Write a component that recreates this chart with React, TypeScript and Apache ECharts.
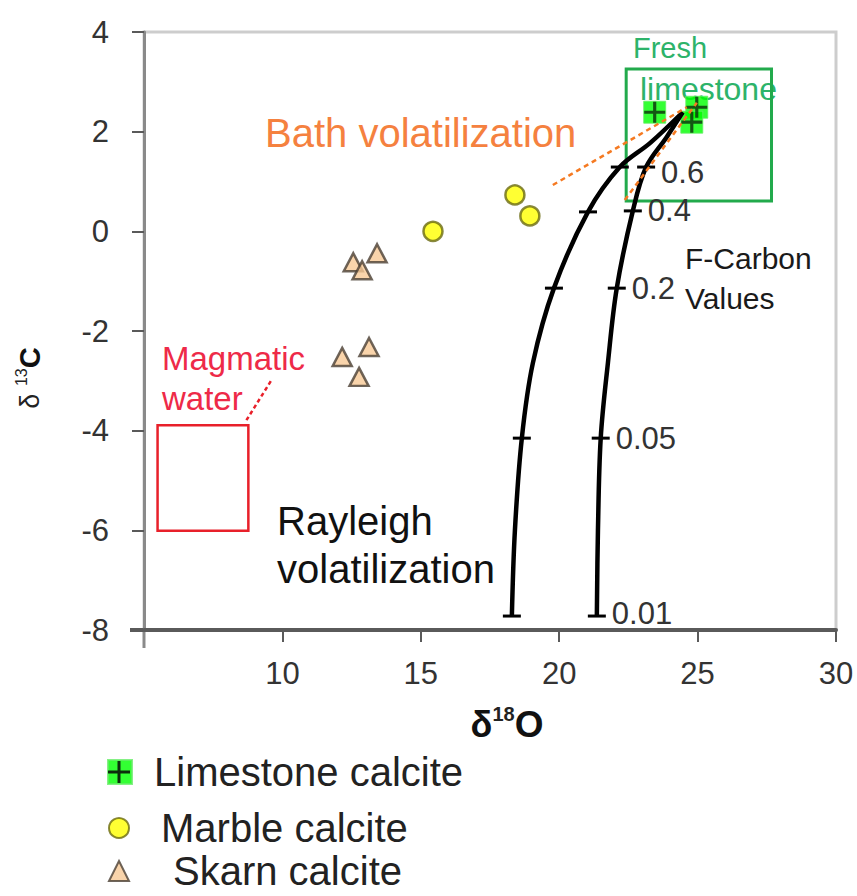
import React, { useEffect, useRef } from 'react';
import * as echarts from 'echarts';

// ---- Data ----
const limestoneX = [23.45, 24.97, 24.79];
const limestoneY = [2.39, 2.49, 2.19];

const marbleX = [18.4, 18.94, 15.44];
const marbleY = [0.73, 0.31, 0.0];

const skarnX = [13.42, 12.56, 12.88, 13.13, 12.16, 12.77];
const skarnY = [-0.44, -0.62, -0.78, -2.32, -2.52, -2.92];

// Rayleigh volatilization curves (tick indices mark F-carbon values)
const leftCurveX = [24.46, 23.3, 22.19, 21.04, 19.81, 19.05, 18.65, 18.4, 18.29];
const leftCurveY = [2.39, 1.78, 1.29, 0.39, -1.14, -2.64, -4.15, -6.0, -7.72];
const rightCurveX = [24.46, 23.88, 23.14, 22.66, 22.08, 21.76, 21.5, 21.4, 21.36];
const rightCurveY = [2.39, 1.89, 1.29, 0.41, -1.14, -2.64, -4.15, -6.0, -7.72];
const curveTickIndex = [2, 3, 4, 6, 8];
const fCarbonLabels = ['0.6', '0.4', '0.2', '0.05', '0.01'];

// Bath volatilization guide lines
const bathLine1X = [19.77, 24.61];
const bathLine1Y = [0.93, 2.49];
const bathLine2X = [22.37, 24.97];
const bathLine2Y = [0.63, 2.58];

// Magmatic water box and leader
const magmaticBoxX = [5.49, 8.77];
const magmaticBoxY = [-6.01, -3.89];
const magmaticLeaderX = [8.7, 9.6];
const magmaticLeaderY = [-3.79, -2.99];

// Fresh limestone box
const freshBoxX = [22.42, 27.67];
const freshBoxY = [0.61, 3.26];

const xTicks = { min: 5, max: 30, interval: 5 };
const yTicks = { min: -8, max: 4, interval: 2 };

const FONT = 'Liberation Sans, Arial, sans-serif';
const zip = (xs: number[], ys: number[]) => xs.map((x, i) => [x, ys[i]]);

const crossPath = 'path://M8.5,0H11.5V8.5H20V11.5H11.5V20H8.5V11.5H0V8.5H8.5Z';

function curveData(xs: number[], ys: number[], withLabels: boolean) {
  return xs.map((x, i) => {
    const k = curveTickIndex.indexOf(i);
    if (k < 0) return { value: [x, ys[i]], symbol: 'none' };
    const item: any = { value: [x, ys[i]], symbol: 'rect', symbolSize: [18, 3] };
    if (withLabels) {
      item.label = {
        show: true,
        position: 'right',
        distance: 6,
        formatter: fCarbonLabels[k],
        fontSize: 31,
        fontFamily: FONT,
        color: '#333',
        offset: k === 0 ? [0, 5] : k === 4 ? [0, -3] : [0, 0],
      };
    }
    return item;
  });
}

export default function App() {
  const ref = useRef<HTMLDivElement>(null);
  useEffect(() => {
    document.body.style.margin = '0';
    const chart = echarts.init(ref.current!, null, { renderer: 'svg' });
    const legendText = { fontSize: 40, fontFamily: FONT, color: '#222', lineHeight: 40 };
    const option: any = {
      animation: false,
      backgroundColor: '#ffffff',
      textStyle: { fontFamily: FONT },
      grid: {
        left: 144,
        right: 21,
        top: 32,
        bottom: 266,
        show: true,
        borderColor: '#cdcdcd',
        borderWidth: 3,
      },
      xAxis: {
        type: 'value',
        min: xTicks.min,
        max: xTicks.max,
        interval: xTicks.interval,
        axisLine: { onZero: false, lineStyle: { color: '#5a5a5a', width: 4 } },
        axisTick: { show: true, length: 12, lineStyle: { color: '#5a5a5a', width: 2 } },
        axisLabel: {
          showMinLabel: false,
          margin: 28,
          fontSize: 31,
          fontFamily: FONT,
          color: '#333',
        },
        splitLine: { show: false },
      },
      yAxis: {
        type: 'value',
        min: yTicks.min,
        max: yTicks.max,
        interval: yTicks.interval,
        axisLine: { onZero: false, lineStyle: { color: '#8a8a8a', width: 3 } },
        axisTick: { show: true, length: 12, lineStyle: { color: '#5a5a5a', width: 2 } },
        axisLabel: { margin: 35, fontSize: 31, fontFamily: FONT, color: '#333' },
        splitLine: { show: false },
      },
      legend: [
        {
          data: [{ name: 'Limestone calcite', icon: 'rect' }],
          left: 107,
          top: 752,
          padding: 0,
          itemWidth: 24,
          itemHeight: 24,
          textStyle: { ...legendText, padding: [0, 0, 0, 17] },
        },
        {
          data: [{ name: 'Marble calcite', icon: 'circle' }],
          left: 108,
          top: 808,
          padding: 0,
          itemWidth: 20,
          itemHeight: 20,
          textStyle: { ...legendText, padding: [0, 0, 0, 27] },
        },
        {
          data: [{ name: 'Skarn calcite', icon: 'triangle' }],
          left: 108,
          top: 851,
          padding: 0,
          itemWidth: 20,
          itemHeight: 20,
          textStyle: { ...legendText, padding: [0, 0, 0, 39] },
        },
      ],
      series: [
        {
          name: 'Limestone calcite',
          type: 'scatter',
          z: 2,
          symbol: 'rect',
          symbolSize: 22,
          itemStyle: { color: '#00ff00', borderColor: '#66ee66', borderWidth: 1 },
          data: zip(limestoneX, limestoneY),
        },
        {
          name: 'limestone-cross',
          type: 'scatter',
          z: 2,
          symbol: crossPath,
          symbolSize: 21,
          itemStyle: { color: '#0d2d0d' },
          data: zip(limestoneX, limestoneY),
        },
        {
          name: 'Marble calcite',
          type: 'scatter',
          z: 2,
          symbol: 'circle',
          symbolSize: 19,
          itemStyle: { color: '#ffff00', borderColor: '#6a6a10', borderWidth: 2.5 },
          data: zip(marbleX, marbleY),
        },
        {
          name: 'Skarn calcite',
          type: 'scatter',
          z: 2,
          symbol: 'triangle',
          symbolSize: [19, 18],
          itemStyle: { color: '#f8c996', borderColor: '#4a3e33', borderWidth: 2.5 },
          data: zip(skarnX, skarnY),
        },
        {
          name: 'Rayleigh left',
          type: 'line',
          z: 4,
          smooth: 0.35,
          lineStyle: { color: '#000', width: 4.5 },
          itemStyle: { color: '#000' },
          data: curveData(leftCurveX, leftCurveY, false),
        },
        {
          name: 'Rayleigh right',
          type: 'line',
          z: 4,
          smooth: 0.35,
          lineStyle: { color: '#000', width: 4.5 },
          itemStyle: { color: '#000' },
          data: curveData(rightCurveX, rightCurveY, true),
        },
        {
          name: 'Bath 1',
          type: 'line',
          z: 5,
          symbol: 'none',
          lineStyle: { color: '#f57a22', width: 2.5, type: [5, 4] },
          data: zip(bathLine1X, bathLine1Y),
        },
        {
          name: 'Bath 2',
          type: 'line',
          z: 5,
          symbol: 'none',
          lineStyle: { color: '#f57a22', width: 2.5, type: [5, 4] },
          data: zip(bathLine2X, bathLine2Y),
        },
        {
          name: 'Magmatic leader',
          type: 'line',
          z: 5,
          symbol: 'none',
          lineStyle: { color: '#e8202a', width: 2.5, type: [4, 3] },
          data: zip(magmaticLeaderX, magmaticLeaderY),
          markArea: {
            silent: true,
            itemStyle: { color: 'rgba(0,0,0,0)', borderColor: '#e8202a', borderWidth: 2.5 },
            data: [
              [
                { coord: [magmaticBoxX[0], magmaticBoxY[1]] },
                { coord: [magmaticBoxX[1], magmaticBoxY[0]] },
              ],
              [
                {
                  coord: [freshBoxX[0], freshBoxY[1]],
                  itemStyle: { color: 'rgba(0,0,0,0)', borderColor: '#22aa4c', borderWidth: 3 },
                },
                { coord: [freshBoxX[1], freshBoxY[0]] },
              ],
            ],
          },
        },
      ],
      graphic: [
        // cross on legend icon
        {
          type: 'rect',
          shape: { x: 108, y: 770.5, width: 22, height: 3 },
          style: { fill: '#0d2d0d' },
          z: 100,
        },
        {
          type: 'rect',
          shape: { x: 117.5, y: 761, width: 3, height: 22 },
          style: { fill: '#0d2d0d' },
          z: 100,
        },
        // axis line overhangs
        {
          type: 'line',
          shape: { x1: 144, y1: 630, x2: 144, y2: 648 },
          style: { stroke: '#8a8a8a', lineWidth: 3 },
        },
        {
          type: 'line',
          shape: { x1: 130, y1: 630, x2: 144, y2: 630 },
          style: { stroke: '#5a5a5a', lineWidth: 4 },
        },
        // axis titles
        {
          type: 'text',
          x: 30,
          y: 378,
          rotation: Math.PI / 2,
          style: {
            text: '{d|δ }{s|13}{c|C}',
            align: 'center',
            verticalAlign: 'middle',
            rich: {
              d: { fontSize: 27, fontFamily: FONT, fill: '#222', lineHeight: 34 },
              s: { fontSize: 16, fontFamily: FONT, fill: '#222', verticalAlign: 'top', lineHeight: 34 },
              c: { fontSize: 29, fontFamily: FONT, fontWeight: 'bold', fill: '#111', lineHeight: 34 },
            },
          },
        },
        {
          type: 'text',
          x: 507,
          y: 724,
          style: {
            text: '{d|δ}{s|18}{c|O}',
            align: 'center',
            verticalAlign: 'middle',
            rich: {
              d: { fontSize: 36, fontFamily: FONT, fontWeight: 'bold', fill: '#111', lineHeight: 40 },
              s: { fontSize: 20, fontFamily: FONT, fontWeight: 'bold', fill: '#222', verticalAlign: 'top', lineHeight: 40 },
              c: { fontSize: 37, fontFamily: FONT, fontWeight: 'bold', fill: '#111', lineHeight: 40 },
            },
          },
        },
        // annotations
        {
          type: 'text',
          x: 633,
          y: 48,
          style: { text: 'Fresh', fontSize: 29, fontFamily: FONT, fill: '#2db36a', verticalAlign: 'middle' },
        },
        {
          type: 'text',
          x: 640,
          y: 89,
          style: { text: 'limestone', fontSize: 32, fontFamily: FONT, fill: '#2db36a', verticalAlign: 'middle' },
        },
        {
          type: 'text',
          x: 265,
          y: 133,
          style: { text: 'Bath volatilization', fontSize: 40, fontFamily: FONT, fill: '#f5813f', verticalAlign: 'middle' },
        },
        {
          type: 'text',
          x: 685,
          y: 258,
          style: { text: 'F-Carbon', fontSize: 30, fontFamily: FONT, fill: '#1a1a1a', verticalAlign: 'middle' },
        },
        {
          type: 'text',
          x: 685,
          y: 298,
          style: { text: 'Values', fontSize: 30, fontFamily: FONT, fill: '#1a1a1a', verticalAlign: 'middle' },
        },
        {
          type: 'text',
          x: 162,
          y: 358,
          style: { text: 'Magmatic', fontSize: 33, fontFamily: FONT, fill: '#ee2a48', verticalAlign: 'middle' },
        },
        {
          type: 'text',
          x: 162,
          y: 398,
          style: { text: 'water', fontSize: 33, fontFamily: FONT, fill: '#ee2a48', verticalAlign: 'middle' },
        },
        {
          type: 'text',
          x: 277,
          y: 521,
          style: { text: 'Rayleigh', fontSize: 40, fontFamily: FONT, fill: '#111', verticalAlign: 'middle' },
        },
        {
          type: 'text',
          x: 277,
          y: 569,
          style: { text: 'volatilization', fontSize: 40, fontFamily: FONT, fill: '#111', verticalAlign: 'middle' },
        },
      ],
    };
    chart.setOption(option);
    return () => chart.dispose();
  }, []);
  return <div ref={ref} style={{ width: 857, height: 896 }} />;
}
